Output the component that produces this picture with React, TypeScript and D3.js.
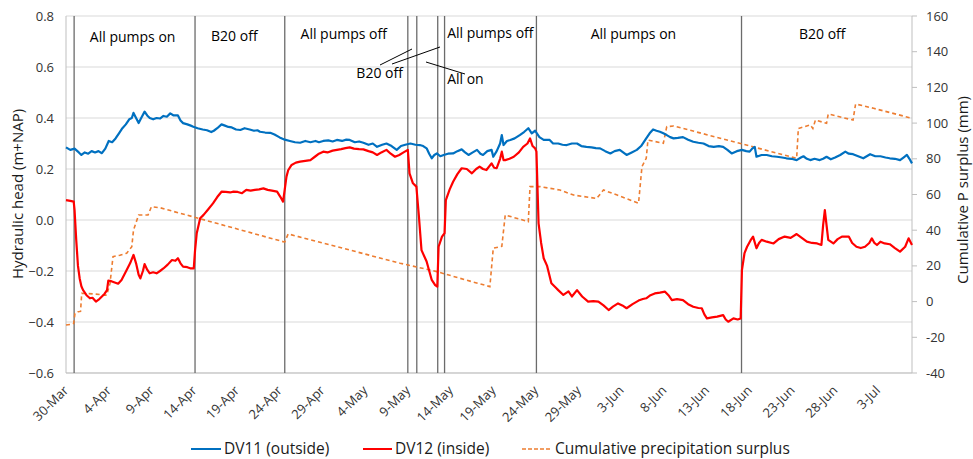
import React from "react";
import * as d3 from "d3";

// ---------- DATA (day offsets from 30-Mar) ----------
const startDate = new Date(2018, 2, 30);
const endDate = new Date(2018, 6, 7);

const tickDays = [0, 5, 10, 15, 20, 25, 30, 35, 40, 45, 50, 55, 60, 65, 70, 75, 80, 85, 90, 95];
const leftTicks = [-0.6, -0.4, -0.2, 0.0, 0.2, 0.4, 0.6, 0.8];
const rightTicks = [-40, -20, 0, 20, 40, 60, 80, 100, 120, 140, 160];

const eventDays = [0.95, 15.1, 25.6, 40.0, 41.05, 43.5, 44.3, 55.05, 79.05];

const dv11Days = [0, 0.5, 1.0, 1.5, 1.8, 2.2, 2.6, 3.0, 3.4, 3.8, 4.2, 4.6, 5.0, 5.4, 5.8, 6.2, 6.6, 7.0, 7.4, 7.7, 7.9, 8.2, 8.5, 8.8, 9.2, 9.5, 9.8, 10.2, 10.6, 11.0, 11.4, 11.8, 12.2, 12.6, 13.1, 13.4, 13.7, 14.2, 14.6, 14.9, 15.4, 16.0, 16.5, 17.0, 17.3, 17.7, 18.2, 18.6, 19.0, 19.4, 19.9, 20.4, 20.9, 21.5, 22.0, 22.4, 22.7, 23.3, 23.9, 24.4, 25.0, 25.6, 26.2, 26.8, 27.4, 28.0, 28.6, 29.2, 29.6, 30.1, 30.7, 31.2, 31.7, 32.3, 32.8, 33.2, 33.8, 34.3, 34.8, 35.4, 35.9, 36.4, 37.0, 37.5, 38.1, 38.7, 39.2, 39.7, 40.3, 40.9, 41.4, 41.8, 42.2, 42.5, 42.8, 43.1, 43.4, 43.8, 44.2, 44.7, 45.3, 45.8, 46.3, 46.7, 47.1, 47.6, 48.1, 48.5, 48.8, 49.3, 49.8, 50.0, 50.4, 50.8, 51.0, 51.2, 51.6, 52.0, 52.5, 53.1, 53.6, 54.1, 54.5, 54.9, 55.4, 55.9, 56.6, 57.0, 57.6, 58.1, 58.6, 59.2, 59.8, 60.3, 60.9, 61.5, 62.0, 62.5, 63.1, 63.7, 64.2, 64.8, 65.2, 65.6, 66.2, 66.8, 67.3, 67.9, 68.3, 68.7, 69.1, 69.5, 69.9, 70.3, 70.7, 71.1, 71.6, 72.2, 72.8, 73.4, 74.0, 74.6, 75.2, 75.8, 76.4, 76.9, 77.4, 77.9, 78.5, 79.1, 79.6, 80.0, 80.3, 80.6, 80.8, 81.4, 82.0, 82.6, 83.2, 83.8, 84.3, 84.9, 85.5, 86.0, 86.3, 86.7, 87.1, 87.6, 88.2, 88.6, 89.0, 89.5, 90.0, 90.6, 91.2, 91.6, 92.1, 92.7, 93.3, 93.7, 94.1, 94.7, 95.3, 95.9, 96.4, 97.0, 97.6, 98.0, 98.4, 98.7, 99.0];
const dv11Values = [0.285, 0.275, 0.28, 0.265, 0.255, 0.265, 0.26, 0.27, 0.265, 0.27, 0.262, 0.28, 0.31, 0.305, 0.32, 0.34, 0.36, 0.375, 0.395, 0.40, 0.42, 0.40, 0.38, 0.40, 0.425, 0.41, 0.40, 0.395, 0.40, 0.398, 0.408, 0.405, 0.418, 0.41, 0.41, 0.39, 0.38, 0.375, 0.37, 0.366, 0.36, 0.355, 0.352, 0.345, 0.35, 0.36, 0.375, 0.37, 0.365, 0.363, 0.355, 0.353, 0.36, 0.355, 0.35, 0.352, 0.346, 0.343, 0.342, 0.335, 0.324, 0.315, 0.31, 0.305, 0.303, 0.31, 0.305, 0.31, 0.305, 0.31, 0.312, 0.308, 0.314, 0.31, 0.315, 0.314, 0.305, 0.308, 0.303, 0.295, 0.30, 0.287, 0.295, 0.30, 0.29, 0.275, 0.29, 0.295, 0.30, 0.295, 0.294, 0.29, 0.281, 0.26, 0.242, 0.255, 0.261, 0.25, 0.255, 0.26, 0.261, 0.27, 0.277, 0.265, 0.255, 0.265, 0.275, 0.26, 0.255, 0.27, 0.275, 0.248, 0.27, 0.30, 0.333, 0.294, 0.31, 0.314, 0.32, 0.333, 0.345, 0.36, 0.34, 0.35, 0.325, 0.314, 0.314, 0.30, 0.30, 0.295, 0.294, 0.30, 0.30, 0.29, 0.287, 0.285, 0.282, 0.281, 0.27, 0.261, 0.27, 0.275, 0.265, 0.255, 0.265, 0.275, 0.29, 0.32, 0.34, 0.355, 0.35, 0.346, 0.34, 0.333, 0.325, 0.32, 0.322, 0.325, 0.315, 0.307, 0.303, 0.30, 0.29, 0.287, 0.29, 0.287, 0.275, 0.261, 0.27, 0.275, 0.27, 0.268, 0.28, 0.287, 0.248, 0.255, 0.255, 0.25, 0.248, 0.245, 0.242, 0.24, 0.235, 0.245, 0.25, 0.24, 0.235, 0.24, 0.235, 0.24, 0.248, 0.238, 0.245, 0.255, 0.268, 0.26, 0.258, 0.25, 0.242, 0.25, 0.258, 0.25, 0.25, 0.245, 0.242, 0.24, 0.235, 0.245, 0.255, 0.24, 0.222];

const dv12Days = [0, 0.5, 0.9, 1.0, 1.2, 1.4, 1.6, 1.8, 2.0, 2.4, 2.8, 3.1, 3.5, 3.9, 4.2, 4.5, 4.8, 4.95, 5.3, 5.7, 6.1, 6.5, 7.1, 7.5, 7.9, 8.2, 8.5, 8.7, 9.0, 9.2, 9.5, 9.8, 10.2, 10.6, 11.0, 11.4, 11.9, 12.4, 12.8, 13.1, 13.4, 13.7, 14.2, 14.6, 14.95, 15.1, 15.3, 15.7, 16.1, 16.6, 17.2, 17.7, 18.2, 18.7, 19.2, 19.6, 20.1, 20.6, 21.1, 21.6, 22.1, 22.6, 23.1, 23.6, 24.1, 24.7, 25.1, 25.4, 25.6, 25.8, 26.0, 26.4, 26.9, 27.4, 28.0, 28.6, 29.2, 29.6, 30.1, 30.6, 31.2, 31.7, 32.2, 32.7, 33.2, 33.7, 34.3, 34.8, 35.4, 35.9, 36.4, 36.9, 37.5, 38.0, 38.5, 39.0, 39.5, 40.0, 40.2, 40.6, 41.0, 41.3, 41.6, 42.2, 42.8, 43.2, 43.45, 43.6, 44.0, 44.3, 44.45, 44.9, 45.3, 45.8, 46.3, 46.9, 47.5, 48.0, 48.4, 48.8, 49.2, 49.8, 50.1, 50.4, 50.8, 51.0, 51.2, 51.4, 51.9, 52.4, 53.0, 53.5, 54.0, 54.3, 54.6, 54.9, 55.05, 55.3, 55.6, 55.9, 56.3, 56.8, 57.3, 57.6, 58.2, 58.8, 59.2, 59.8, 60.4, 61.1, 61.7, 62.3, 62.9, 63.5, 64.0, 64.6, 65.1, 65.6, 66.3, 67.0, 67.5, 67.9, 68.4, 68.9, 69.5, 70.1, 70.5, 70.9, 71.5, 72.2, 72.8, 73.4, 74.0, 74.4, 74.7, 75.0, 75.6, 76.2, 76.9, 77.2, 77.5, 78.1, 78.6, 78.95, 79.1, 79.4, 79.7, 80.1, 80.4, 80.8, 81.1, 81.4, 82.0, 82.8, 83.4, 84.1, 84.8, 85.5, 86.1, 86.7, 87.3, 87.9, 88.4, 88.6, 88.8, 89.0, 89.2, 89.8, 90.3, 90.8, 91.6, 92.0, 92.5, 93.0, 93.5, 94.0, 94.3, 94.6, 94.9, 95.3, 95.8, 96.4, 97.0, 97.6, 98.2, 98.6, 99.0];
const dv12Values = [0.078, 0.075, 0.072, 0.04, -0.08, -0.18, -0.229, -0.26, -0.275, -0.295, -0.307, -0.305, -0.32, -0.31, -0.30, -0.29, -0.275, -0.238, -0.24, -0.245, -0.25, -0.235, -0.196, -0.17, -0.137, -0.17, -0.215, -0.229, -0.2, -0.173, -0.195, -0.209, -0.205, -0.209, -0.2, -0.19, -0.175, -0.157, -0.16, -0.15, -0.17, -0.183, -0.185, -0.19, -0.19, -0.12, -0.052, 0.007, 0.02, 0.04, 0.065, 0.09, 0.111, 0.11, 0.108, 0.111, 0.11, 0.105, 0.118, 0.115, 0.118, 0.12, 0.124, 0.118, 0.115, 0.111, 0.09, 0.072, 0.12, 0.17, 0.195, 0.216, 0.225, 0.229, 0.232, 0.235, 0.25, 0.26, 0.268, 0.265, 0.272, 0.275, 0.278, 0.282, 0.285, 0.28, 0.278, 0.277, 0.27, 0.265, 0.255, 0.265, 0.275, 0.26, 0.248, 0.255, 0.265, 0.275, 0.183, 0.144, 0.131, 0.013, -0.118, -0.163, -0.235, -0.255, -0.261, -0.105, -0.065, -0.052, 0.078, 0.12, 0.15, 0.18, 0.203, 0.2, 0.183, 0.2, 0.209, 0.2, 0.196, 0.222, 0.205, 0.203, 0.24, 0.268, 0.235, 0.235, 0.24, 0.248, 0.265, 0.287, 0.30, 0.32, 0.29, 0.281, 0.268, -0.013, -0.09, -0.15, -0.18, -0.248, -0.265, -0.275, -0.294, -0.28, -0.30, -0.275, -0.30, -0.32, -0.318, -0.32, -0.335, -0.353, -0.34, -0.327, -0.335, -0.346, -0.33, -0.316, -0.31, -0.307, -0.295, -0.288, -0.285, -0.281, -0.295, -0.314, -0.31, -0.314, -0.33, -0.34, -0.345, -0.346, -0.37, -0.386, -0.382, -0.379, -0.373, -0.39, -0.399, -0.386, -0.39, -0.386, -0.196, -0.13, -0.105, -0.08, -0.065, -0.111, -0.09, -0.078, -0.085, -0.092, -0.075, -0.065, -0.07, -0.055, -0.07, -0.085, -0.09, -0.092, -0.098, -0.02, 0.039, -0.02, -0.078, -0.092, -0.075, -0.065, -0.065, -0.09, -0.105, -0.11, -0.105, -0.09, -0.072, -0.09, -0.098, -0.085, -0.092, -0.095, -0.11, -0.124, -0.105, -0.072, -0.098];

const precipDays = [0, 0.5, 0.9, 1.05, 1.4, 1.7, 1.84, 2.5, 3.5, 4.5, 4.76, 5.15, 5.5, 6.3, 7.1, 7.7, 7.9, 8.5, 9.6, 10.0, 11.0, 25.4, 25.6, 26.0, 27.2, 39.1, 43.4, 46.8, 49.6, 50.0, 51.0, 51.4, 54.1, 54.3, 55.5, 57.8, 59.4, 62.1, 62.9, 64.5, 67.0, 67.4, 67.9, 68.1, 69.9, 70.3, 71.1, 85.5, 85.7, 87.1, 87.4, 87.7, 89.0, 89.2, 92.1, 92.4, 94.5, 99.0];
const precipValues = [-13.1, -12.8, -12.2, -6.6, -5.7, -5.5, 4.6, 4.5, 4.2, 3.6, 3.6, 10.2, 25.2, 26.0, 27.1, 30.8, 40.1, 48.5, 48.5, 53.2, 52.6, 33.6, 33.5, 37.9, 36.4, 21.5, 16.8, 12.1, 8.4, 29.9, 31.0, 48.5, 44.8, 64.4, 64.4, 62.5, 59.7, 57.8, 62.5, 59.7, 55.1, 75.6, 80.3, 90.5, 88.7, 98.0, 98.4, 80.3, 97.0, 99.0, 97.0, 101.7, 99.9, 105.1, 101.7, 110.7, 108.3, 102.7];

const annotations = [
  { text: "All pumps on", day: 7.8, y: 42, anchor: "middle" },
  { text: "B20 off", day: 19.7, y: 41, anchor: "middle" },
  { text: "All pumps off", day: 32.5, y: 39, anchor: "middle" },
  { text: "All pumps off", day: 44.6, y: 38, anchor: "start" },
  { text: "All pumps on", day: 66.4, y: 39, anchor: "middle" },
  { text: "B20 off", day: 88.5, y: 39, anchor: "middle" },
  { text: "B20 off", day: 36.7, y: 78, anchor: "middle" },
  { text: "All on", day: 44.6, y: 84, anchor: "start" },
];

const FONT = "'Open Sans', 'Liberation Sans', Arial, sans-serif";

export default function App() {
  const W = 973, H = 459;
  const L = 66, R = 912, T = 16, B = 373;
  const dayToDate = (d: number) => new Date(startDate.getTime() + d * 86400000);
  const x = d3.scaleTime().domain([startDate, endDate]).range([L, R]);
  const yL = d3.scaleLinear().domain([-0.6, 0.8]).range([B, T]);
  const yR = d3.scaleLinear().domain([-40, 160]).range([B, T]);
  const fmt = d3.timeFormat("%-d-%b");

  const lineL = d3.line<[number, number]>().x(d => x(dayToDate(d[0]))).y(d => yL(d[1]));
  const lineR = d3.line<[number, number]>().x(d => x(dayToDate(d[0]))).y(d => yR(d[1]));
  const blue = dv11Days.map((d, i) => [d, dv11Values[i]] as [number, number]);
  const red = dv12Days.map((d, i) => [d, dv12Values[i]] as [number, number]);
  const orange = precipDays.map((d, i) => [d, precipValues[i]] as [number, number]);

  const ex = (d: number) => x(dayToDate(d));

  return (
    <svg width={W} height={H} style={{ position: "absolute", left: 0, top: 0, background: "#fff" }} fontFamily={FONT}>
      {leftTicks.map(t => (
        <line key={"g" + t} x1={L} x2={R} y1={yL(t)} y2={yL(t)} stroke="#d9d9d9" strokeWidth={1} />
      ))}
      <line x1={L} x2={L} y1={T} y2={B} stroke="#bfbfbf" />
      <line x1={R} x2={R} y1={T} y2={B} stroke="#bfbfbf" />
      <line x1={L} x2={R} y1={B} y2={B} stroke="#bfbfbf" />
      {rightTicks.map(t => (
        <line key={"rt" + t} x1={R} x2={R + 5} y1={yR(t)} y2={yR(t)} stroke="#bfbfbf" />
      ))}
      {leftTicks.map(t => (
        <text key={"lt" + t} x={54} y={yL(t)} dy="0.35em" textAnchor="end" fontSize={13} fill="#333">
          {d3.format(".1f")(t)}
        </text>
      ))}
      {rightTicks.map(t => (
        <text key={"rl" + t} x={926} y={yR(t)} dy="0.35em" textAnchor="start" fontSize={13} fill="#333">
          {t}
        </text>
      ))}
      {tickDays.map(d => {
        const px = ex(d);
        return (
          <text key={"xt" + d} transform={`translate(${px},388) rotate(-45)`} dy="0.35em" textAnchor="end" fontSize={13} fill="#333">
            {fmt(dayToDate(d))}
          </text>
        );
      })}
      <text transform="translate(18,194) rotate(-90)" textAnchor="middle" dy="0.35em" fontSize={15} fill="#1a1a1a">
        Hydraulic head (m+NAP)
      </text>
      <text transform="translate(963,190) rotate(-90)" textAnchor="middle" dy="0.35em" fontSize={15} fill="#1a1a1a">
        Cumulative P surplus (mm)
      </text>
      {eventDays.map(d => (
        <line key={"ev" + d} x1={ex(d)} x2={ex(d)} y1={T} y2={B} stroke="#6b6b6b" strokeWidth={1.3} />
      ))}
      <path d={lineR(orange) || ""} fill="none" stroke="#ED7D31" strokeWidth={1.6} strokeDasharray="4,3" />
      <path d={lineL(blue) || ""} fill="none" stroke="#0070C0" strokeWidth={2.2} strokeLinejoin="round" />
      <path d={lineL(red) || ""} fill="none" stroke="#FF0000" strokeWidth={2.2} strokeLinejoin="round" />
      {annotations.map((a, i) => (
        <text key={"an" + i} x={ex(a.day)} y={a.y} textAnchor={a.anchor as any} fontSize={14} fill="#000">
          {a.text}
        </text>
      ))}
      <line x1={380} y1={65} x2={412} y2={49} stroke="#000" strokeWidth={1} />
      <line x1={392} y1={64} x2={440} y2={47} stroke="#000" strokeWidth={1} />
      <line x1={426} y1={62} x2={465} y2={74} stroke="#000" strokeWidth={1} />
      <line x1={191} x2={221} y1={449} y2={449} stroke="#0070C0" strokeWidth={2} />
      <text x={224} y={449} dy="0.35em" fontSize={15.5} fill="#1a1a1a">DV11 (outside)</text>
      <line x1={363} x2={392} y1={449} y2={449} stroke="#FF0000" strokeWidth={2} />
      <text x={395} y={449} dy="0.35em" fontSize={15.5} fill="#1a1a1a">DV12 (inside)</text>
      <line x1={522} x2={552} y1={449} y2={449} stroke="#ED7D31" strokeWidth={1.6} strokeDasharray="4,2" />
      <text x={555} y={449} dy="0.35em" fontSize={15.5} fill="#1a1a1a">Cumulative precipitation surplus</text>
    </svg>
  );
}
